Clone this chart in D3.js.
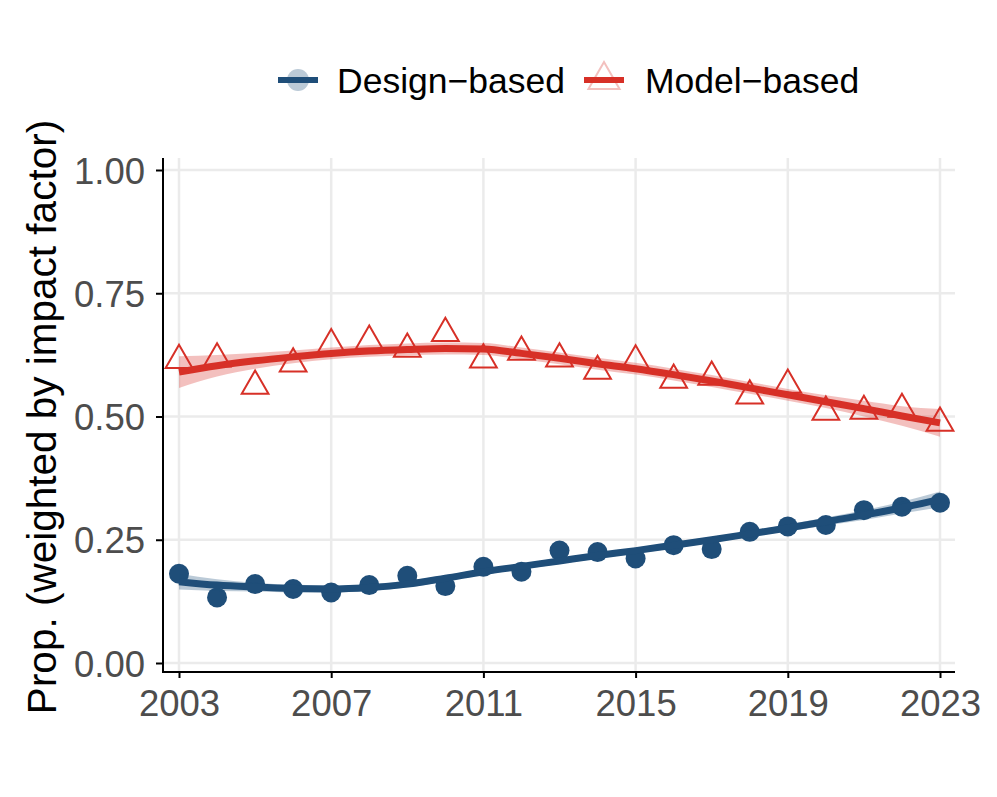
<!DOCTYPE html>
<html>
<head>
<meta charset="utf-8">
<script src="https://cdn.jsdelivr.net/npm/d3@7"></script>
<style>
  body { margin: 0; background: #fff; }
  svg { font-family: "Liberation Sans", Arial, sans-serif; }
</style>
</head>
<body>
<svg width="997" height="797"></svg>
<script>
// data
var years = d3.range(2003, 2024);
var designPts = [0.181, 0.133, 0.160, 0.150, 0.143, 0.158, 0.177, 0.156, 0.195, 0.185, 0.228,
                 0.225, 0.212, 0.239, 0.231, 0.266, 0.277, 0.280, 0.310, 0.317, 0.325];
var modelPts  = [0.614, 0.617, 0.562, 0.607, 0.646, 0.653, 0.637, 0.669, 0.615, 0.631, 0.617,
                 0.592, 0.613, 0.574, 0.580, 0.542, 0.564, 0.509, 0.511, 0.515, 0.487];
// smoothed fit + half width of band
var designFit = [0.165, 0.158, 0.154, 0.151, 0.150, 0.153, 0.160, 0.172, 0.185, 0.196, 0.207,
                 0.218, 0.228, 0.239, 0.250, 0.262, 0.274, 0.287, 0.300, 0.315, 0.332];
var designSe  = [0.016, 0.012, 0.009, 0.008, 0.007, 0.007, 0.007, 0.006, 0.006, 0.006, 0.006,
                 0.006, 0.006, 0.006, 0.006, 0.006, 0.007, 0.008, 0.010, 0.012, 0.016];
var modelFit  = [0.590, 0.603, 0.613, 0.621, 0.628, 0.633, 0.636, 0.638, 0.637, 0.628, 0.618,
                 0.607, 0.597, 0.585, 0.572, 0.558, 0.544, 0.530, 0.516, 0.501, 0.487];
var modelSe   = [0.032, 0.022, 0.016, 0.013, 0.012, 0.012, 0.012, 0.012, 0.012, 0.012, 0.012,
                 0.012, 0.012, 0.012, 0.012, 0.012, 0.012, 0.013, 0.016, 0.020, 0.028];
var yTicks = [0, 0.25, 0.5, 0.75, 1];
var xTicks = [2003, 2007, 2011, 2015, 2019, 2023];
var seriesNames = ["Design\u2212based", "Model\u2212based"];

var blue = "#1f4e79", red = "#d73027";

var svg = d3.select("svg");
var x = d3.scaleLinear().domain([2003, 2023]).range([179, 940]);
var y = d3.scaleLinear().domain([0, 1]).range([663, 170]);
var panelL = 163, panelR = 955, panelT = 158, panelB = 672;

// grid
svg.append("g").selectAll("line").data(yTicks).enter().append("line")
    .attr("x1", panelL).attr("x2", panelR)
    .attr("y1", function(d){return y(d);}).attr("y2", function(d){return y(d);})
    .attr("stroke", "#ebebeb").attr("stroke-width", 2.5);
svg.append("g").selectAll("line").data(xTicks).enter().append("line")
    .attr("y1", panelT).attr("y2", panelB)
    .attr("x1", function(d){return x(d);}).attr("x2", function(d){return x(d);})
    .attr("stroke", "#ebebeb").attr("stroke-width", 2.5);

// points
svg.append("g").selectAll("circle").data(designPts).enter().append("circle")
    .attr("cx", function(d,i){return x(years[i]);})
    .attr("cy", function(d){return y(d);})
    .attr("r", 10).attr("fill", blue);

var tri = d3.symbol().type(d3.symbolTriangle).size(310);
svg.append("g").selectAll("path").data(modelPts).enter().append("path")
    .attr("d", tri)
    .attr("transform", function(d,i){return "translate(" + x(years[i]) + "," + y(d) + ")";})
    .attr("fill", "none").attr("stroke", red).attr("stroke-width", 2);

// bands + fitted lines
function drawSmooth(fit, se, col) {
    var band = d3.area().curve(d3.curveMonotoneX)
        .x(function(d,i){return x(years[i]);})
        .y0(function(d,i){return y(d - se[i]);})
        .y1(function(d,i){return y(d + se[i]);});
    svg.append("path").datum(fit).attr("d", band)
        .attr("fill", col).attr("fill-opacity", 0.3);
    var line = d3.line().curve(d3.curveMonotoneX)
        .x(function(d,i){return x(years[i]);})
        .y(function(d){return y(d);});
    svg.append("path").datum(fit).attr("d", line)
        .attr("fill", "none").attr("stroke", col).attr("stroke-width", 7);
}
drawSmooth(designFit, designSe, blue);
drawSmooth(modelFit, modelSe, red);

// axes
var yAxis = svg.append("g").attr("transform", "translate(" + panelL + ",0)")
    .call(d3.axisLeft(y).tickValues(yTicks).tickFormat(d3.format(".2f")).tickSize(7).tickPadding(11));
var xAxis = svg.append("g").attr("transform", "translate(0," + panelB + ")")
    .call(d3.axisBottom(x).tickValues(xTicks).tickFormat(d3.format("d")).tickSize(6).tickPadding(4));
[yAxis, xAxis].forEach(function(a){
    a.select(".domain").remove();
    a.selectAll(".tick line").attr("stroke", "#000").attr("stroke-width", 2);
    a.selectAll(".tick text").attr("fill", "#4d4d4d").style("font-size", "36.5px")
        .style("font-family", "Liberation Sans, Arial, sans-serif");
});
xAxis.selectAll(".tick text").attr("dy", "0.92em");
yAxis.selectAll(".tick text").attr("dy", "0.36em");
svg.append("line").attr("x1", panelL).attr("x2", panelL).attr("y1", panelT).attr("y2", panelB + 1)
    .attr("stroke", "#000").attr("stroke-width", 2);
svg.append("line").attr("x1", panelL - 1).attr("x2", panelR).attr("y1", panelB).attr("y2", panelB)
    .attr("stroke", "#000").attr("stroke-width", 2);

// y title
svg.append("text")
    .attr("transform", "translate(56,417) rotate(-90)")
    .attr("text-anchor", "middle").style("font-size", "40.5px").attr("fill", "#000")
    .text("Prop. (weighted by impact factor)");

// legend
var leg = svg.append("g");
var lg1 = leg.append("g").attr("transform", "translate(298,80)");
lg1.append("circle").attr("r", 11).attr("fill", blue).attr("fill-opacity", 0.3);
lg1.append("line").attr("x1", -20).attr("x2", 20).attr("stroke", blue).attr("stroke-width", 6);
leg.append("text").attr("x", 337).attr("y", 93).style("font-size", "35.5px").text(seriesNames[0]);

var lg2 = leg.append("g").attr("transform", "translate(604,80)");
lg2.append("path").attr("d", d3.symbol().type(d3.symbolTriangle).size(420))
    .attr("fill", "none").attr("stroke", red)
    .attr("stroke-opacity", 0.3).attr("stroke-width", 2);
lg2.append("line").attr("x1", -20).attr("x2", 20).attr("stroke", red).attr("stroke-width", 6);
leg.append("text").attr("x", 645).attr("y", 93).style("font-size", "35.5px").text(seriesNames[1]);
</script>
</body>
</html>
